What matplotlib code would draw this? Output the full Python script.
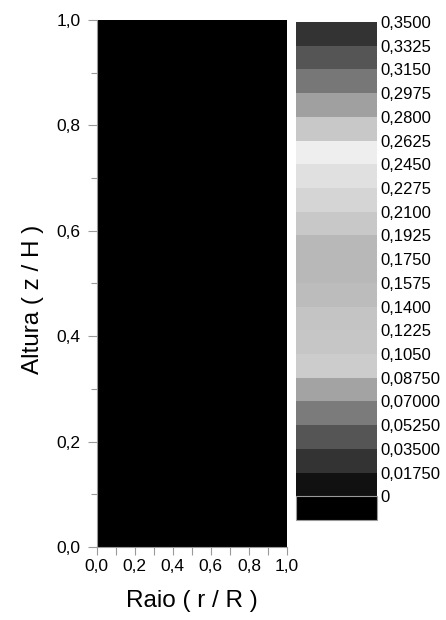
import matplotlib
matplotlib.use("Agg")
import matplotlib.pyplot as plt
import numpy as np
from matplotlib.patches import Rectangle

plt.rcParams['font.family'] = ['Liberation Sans', 'DejaVu Sans']

# grid (r/R, z/H) and field values (whole domain below the lowest level)
r_vals = [0.0, 0.5, 1.0]
z_vals = [0.0, 0.5, 1.0]
field = [[-0.01, -0.01, -0.01],
         [-0.01, -0.01, -0.01],
         [-0.01, -0.01, -0.01]]

levels = [0.0, 0.0175, 0.035, 0.0525, 0.07, 0.0875, 0.105, 0.1225, 0.14,
          0.1575, 0.175, 0.1925, 0.21, 0.2275, 0.245, 0.2625, 0.28,
          0.2975, 0.315, 0.3325, 0.35]
level_labels = ['0', '0,01750', '0,03500', '0,05250', '0,07000', '0,08750',
                '0,1050', '0,1225', '0,1400', '0,1575', '0,1750', '0,1925',
                '0,2100', '0,2275', '0,2450', '0,2625', '0,2800', '0,2975',
                '0,3150', '0,3325', '0,3500']
level_colors = ['#111111', '#333333', '#555555', '#7b7b7b', '#a3a3a3',
                '#cccccc', '#c6c6c6', '#c4c4c4', '#bcbcbc', '#b8b8b8',
                '#b8b8b8', '#c8c8c8', '#d5d5d5', '#e0e0e0', '#eeeeee',
                '#c8c8c8', '#a0a0a0', '#777777', '#555555', '#333333']
under_color = '#000000'

x_ticks = [0.0, 0.2, 0.4, 0.6, 0.8, 1.0]
x_tick_labels = ['0,0', '0,2', '0,4', '0,6', '0,8', '1,0']
y_ticks = [0.0, 0.2, 0.4, 0.6, 0.8, 1.0]
y_tick_labels = ['0,0', '0,2', '0,4', '0,6', '0,8', '1,0']

fig = plt.figure(figsize=(4.46, 6.20), dpi=100)
ax = fig.add_axes([96.5 / 446, 1 - 547 / 620, 190.5 / 446, 527 / 620])
cax = fig.add_axes([296 / 446, 1 - 520 / 620, 81 / 446, 498 / 620])

R, Z = np.meshgrid(r_vals, z_vals)
cs = ax.contourf(R, Z, np.array(field), levels=levels,
                 colors=[under_color] + level_colors, extend='min')

ax.set_xlim(0, 1)
ax.set_ylim(0, 1)
ax.set_xticks(x_ticks)
ax.set_xticklabels(x_tick_labels)
ax.set_yticks(y_ticks)
ax.set_yticklabels(y_tick_labels)
ax.set_xticks(np.arange(0.1, 1.0, 0.2), minor=True)
ax.set_yticks(np.arange(0.1, 1.0, 0.2), minor=True)

grey = '#9a9a9a'
for s in ['top', 'right']:
    ax.spines[s].set_visible(False)
for s in ['left', 'bottom']:
    ax.spines[s].set_color(grey)
    ax.spines[s].set_linewidth(0.8)

ax.tick_params(axis='x', which='both', direction='out', length=6, width=0.8,
               color=grey, labelsize=12.5, pad=2.5)
ax.tick_params(axis='y', which='major', direction='out', length=6.5, width=0.8,
               color=grey, labelsize=12.5, pad=5)
ax.tick_params(axis='y', which='minor', direction='out', length=4.3, width=0.8,
               color=grey)

ax.set_xlabel('Raio ( r / R )', fontsize=17.5)
ax.set_ylabel('Altura ( z / H )', fontsize=17.5)
ax.xaxis.set_label_coords(0.5, -0.082)
ax.yaxis.set_label_coords(-0.335, 0.469)
ax.yaxis.label.set_va('center')
ax.xaxis.label.set_va('top')

cb = fig.colorbar(cs, cax=cax, extendrect=True, extendfrac=0.05,
                  ticks=levels, drawedges=False)
cb.set_ticklabels(level_labels)
cb.outline.set_visible(False)
cax.tick_params(length=0, labelsize=12, pad=2.5)
cax.add_patch(Rectangle((0, -0.05), 1, 0.05, transform=cax.transAxes,
                        fill=False, edgecolor=grey, linewidth=0.8,
                        clip_on=False))

fig.savefig('out.png', dpi=100)
